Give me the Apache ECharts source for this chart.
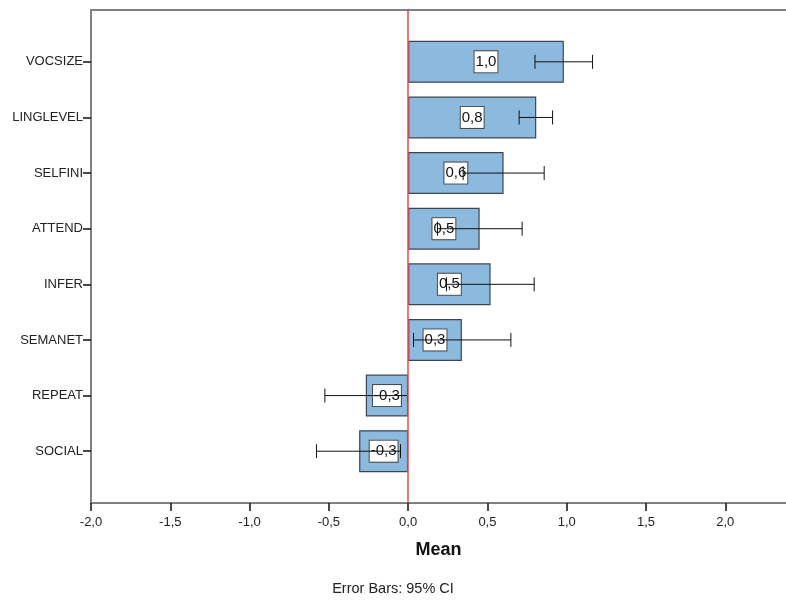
<!DOCTYPE html>
<html>
<head>
<meta charset="utf-8">
<script src="https://cdn.jsdelivr.net/npm/echarts@6/dist/echarts.min.js"></script>
<style>
html,body{margin:0;padding:0;background:#fff;}
#main{width:786px;height:601px;}
</style>
</head>
<body>
<div id="main"></div>
<script>
var categories = ['VOCSIZE', 'LINGLEVEL', 'SELFINI', 'ATTEND', 'INFER', 'SEMANET', 'REPEAT', 'SOCIAL'];
var means = [0.982, 0.808, 0.602, 0.451, 0.520, 0.339, -0.267, -0.309];
var ciLow = [0.800, 0.700, 0.347, 0.185, 0.242, 0.034, -0.525, -0.578];
var ciHigh = [1.163, 0.911, 0.858, 0.719, 0.795, 0.648, -0.004, -0.048];
var xTicks = [-2.0, -1.5, -1.0, -0.5, 0.0, 0.5, 1.0, 1.5, 2.0];

var FONT = 'Liberation Sans, Arial, sans-serif';
var X_MIN = -2, X_MAX = 2.383;
function fmt(v) { return v.toFixed(1).replace('.', ','); }

var errData = categories.map(function (c, i) { return [i, ciLow[i], ciHigh[i]]; });

var chart = echarts.init(document.getElementById('main'), null, { renderer: 'canvas' });
chart.setOption({
  animation: false,
  backgroundColor: '#ffffff',
  textStyle: { fontFamily: FONT },
  grid: [
    { left: 91, right: 0, top: 10, bottom: 98 },
    { left: 91, right: 0, top: 34, bottom: 122 }
  ],
  xAxis: [
    {
      gridIndex: 0, type: 'value', min: X_MIN, max: X_MAX, interval: 0.5,
      position: 'bottom',
      axisLine: { show: true, onZero: false, lineStyle: { color: '#808080', width: 2 } },
      axisTick: { show: true, length: 8, customValues: xTicks, lineStyle: { color: '#111', width: 1.5 } },
      axisLabel: { show: true, customValues: xTicks, formatter: function (v) { return fmt(v); }, fontSize: 13, color: '#222', margin: 13, fontFamily: FONT },
      splitLine: { show: false },
      name: 'Mean', nameLocation: 'middle', nameGap: 38,
      nameTextStyle: { fontSize: 18, fontWeight: 'bold', color: '#111', fontFamily: FONT }
    },
    {
      gridIndex: 0, type: 'value', min: X_MIN, max: X_MAX, position: 'top',
      axisLine: { show: true, onZero: false, lineStyle: { color: '#808080', width: 2 } },
      axisTick: { show: false }, axisLabel: { show: false }, splitLine: { show: false }
    },
    {
      gridIndex: 1, type: 'value', min: X_MIN, max: X_MAX, show: false
    }
  ],
  yAxis: [
    {
      gridIndex: 0, type: 'value', min: 0, max: 1, position: 'left',
      axisLine: { show: true, onZero: false, lineStyle: { color: '#808080', width: 2 } },
      axisTick: { show: false }, axisLabel: { show: false }, splitLine: { show: false }
    },
    {
      gridIndex: 1, type: 'category', data: categories, inverse: true, position: 'left',
      axisLine: { show: false, onZero: false },
      axisTick: { show: true, alignWithLabel: true, length: 8, lineStyle: { color: '#111', width: 1.5 } },
      axisLabel: { fontSize: 13, color: '#222', margin: 8, fontFamily: FONT },
      splitLine: { show: false }
    }
  ],
  series: [
    {
      type: 'bar', xAxisIndex: 2, yAxisIndex: 1, data: means, barWidth: 42, z: 2,
      itemStyle: { color: '#8cb9de', borderColor: '#3d4650', borderWidth: 1.2 },
      label: {
        show: true, position: 'inside', formatter: function (p) { return fmt(p.value); },
        fontSize: 15, color: '#111', fontFamily: FONT,
        backgroundColor: '#ffffff', borderColor: '#4a4a4a', borderWidth: 1,
        padding: [3, 1, 3, 1]
      }
    },
    {
      type: 'custom', xAxisIndex: 2, yAxisIndex: 1, data: errData, z: 5,
      renderItem: function (params, api) {
        var idx = api.value(0);
        var lo = api.coord([api.value(1), idx]);
        var hi = api.coord([api.value(2), idx]);
        var h = 7;
        var st = { stroke: '#111', lineWidth: 1 };
        return {
          type: 'group',
          children: [
            { type: 'line', shape: { x1: lo[0], y1: lo[1], x2: hi[0], y2: hi[1] }, style: st },
            { type: 'line', shape: { x1: lo[0], y1: lo[1] - h, x2: lo[0], y2: lo[1] + h }, style: st },
            { type: 'line', shape: { x1: hi[0], y1: hi[1] - h, x2: hi[0], y2: hi[1] + h }, style: st }
          ]
        };
      }
    },
    {
      type: 'line', xAxisIndex: 0, yAxisIndex: 0, data: [], z: 10,
      markLine: {
        silent: true, symbol: ['none', 'none'], z: 10,
        label: { show: false },
        lineStyle: { color: '#f04848', width: 1.5, type: 'solid' },
        data: [{ xAxis: 0 }]
      }
    }
  ],
  graphic: [
    {
      type: 'text', left: 'center', top: 581,
      style: { text: 'Error Bars: 95% CI', fontSize: 14.5, fill: '#222', fontFamily: FONT }
    }
  ]
});
</script>
</body>
</html>
